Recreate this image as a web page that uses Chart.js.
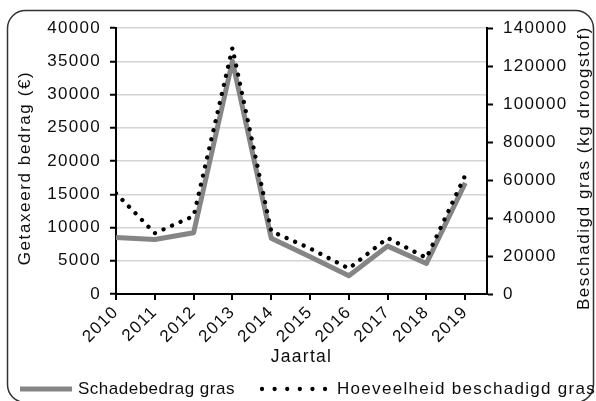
<!DOCTYPE html>
<html><head><meta charset="utf-8">
<script src="https://cdn.jsdelivr.net/npm/chart.js@4/dist/chart.umd.min.js"></script>
<style>html,body{margin:0;padding:0;background:#fff;overflow:hidden}</style>
</head><body>
<canvas id="c" width="596" height="401"></canvas>
<script>
const years = [2010, 2011, 2012, 2013, 2014, 2015, 2016, 2017, 2018, 2019];
const schadebedrag = [8500, 8200, 9200, 35000, 8400, 5600, 2750, 7200, 4600, 16700];
const hoeveelheid = [53000, 32000, 41000, 129500, 33000, 24000, 13400, 29500, 19000, 62500];
const seriesLabels = ['Schadebedrag gras', 'Hoeveelheid beschadigd gras'];
const leftTitle = 'Getaxeerd bedrag (€)';
const rightTitle = 'Beschadigd gras (kg droogstof)';
const xTitle = 'Jaartal';

const FONT = '"Liberation Sans", Arial, sans-serif';
const LS = '1.3px';
const GREY = '#858585';
const INK = '#0d0d0d';

const spacing = {
  id: 'spacing',
  beforeUpdate(c) { c.ctx.letterSpacing = LS; },
  beforeLayout(c) { c.ctx.letterSpacing = LS; },
  beforeDraw(c) {
    const ctx = c.ctx;
    ctx.letterSpacing = LS;
    ctx.save();
    ctx.strokeStyle = '#333';
    ctx.lineWidth = 1.5;
    ctx.beginPath();
    ctx.roundRect(7.5, 10.5, 586, 392, 18);
    ctx.stroke();
    ctx.restore();
  },
  afterDraw(c) {
    const ctx = c.ctx;
    ctx.save();
    ctx.letterSpacing = '1.6px';
    ctx.font = '17px ' + FONT;
    ctx.fillStyle = INK;
    ctx.textAlign = 'center';
    ctx.textBaseline = 'middle';
    ctx.save(); ctx.translate(25, 168); ctx.rotate(-Math.PI / 2); ctx.fillText(leftTitle, 0, 0); ctx.restore();
    ctx.save(); ctx.translate(584, 168); ctx.rotate(-Math.PI / 2); ctx.fillText(rightTitle, 0, 0); ctx.restore();
    // legend
    const ly = 389;
    const ds = c.data.datasets;
    ctx.textAlign = 'left';
    ctx.font = '17px ' + FONT;
    ctx.save();
    ctx.strokeStyle = ds[0].borderColor; ctx.lineWidth = ds[0].borderWidth;
    ctx.beginPath(); ctx.moveTo(20, ly); ctx.lineTo(72, ly); ctx.stroke();
    ctx.restore();
    ctx.letterSpacing = '0.5px';
    ctx.fillText(ds[0].label, 78, ly);
    ctx.save();
    ctx.strokeStyle = ds[1].borderColor; ctx.lineWidth = ds[1].borderWidth;
    ctx.lineCap = 'round'; ctx.setLineDash([0.01, 12.6]);
    ctx.beginPath(); ctx.moveTo(262, ly); ctx.lineTo(330, ly); ctx.stroke();
    ctx.restore();
    ctx.letterSpacing = '1.3px';
    ctx.fillText(ds[1].label, 337, ly);
    ctx.restore();
  }
};

new Chart(document.getElementById('c'), {
  type: 'line',
  data: {
    datasets: [
      {
        label: seriesLabels[0],
        data: years.map((y, i) => ({x: y, y: schadebedrag[i]})),
        yAxisID: 'y',
        borderColor: GREY,
        borderWidth: 5,
        borderJoinStyle: 'round',
        pointRadius: 0,
        tension: 0,
        order: 1
      },
      {
        label: seriesLabels[1],
        data: years.map((y, i) => ({x: y, y: hoeveelheid[i]})),
        yAxisID: 'y1',
        borderColor: '#000',
        borderWidth: 4.3,
        borderDash: [0.01, 9.3],
        borderCapStyle: 'round',
        pointRadius: 0,
        tension: 0,
        order: 0
      }
    ]
  },
  options: {
    responsive: false,
    devicePixelRatio: 1,
    animation: false,
    layout: {padding: {top: 28, bottom: 33, left: 0, right: 0}},
    plugins: {legend: {display: false}, tooltip: {enabled: false}},
    scales: {
      x: {
        type: 'linear',
        min: 2010,
        max: 2019.56,
        afterBuildTicks: s => { s.ticks = years.map(v => ({value: v})); },
        afterFit: s => { s.height = 74; },
        grid: {drawOnChartArea: false, drawTicks: true, tickLength: 6, tickColor: '#000', lineWidth: 2},
        border: {display: true, color: '#000', width: 2},
        ticks: {
          autoSkip: false, minRotation: 45, maxRotation: 45, padding: 2,
          color: INK, font: {family: FONT, size: 17},
          callback: v => String(v)
        },
        title: {display: true, text: xTitle, color: INK, font: {family: FONT, size: 17.5}, padding: {top: 0, bottom: 0}}
      },
      y: {
        position: 'left',
        min: 0, max: 40000,
        afterFit: s => { s.width = 116; },
        ticks: {stepSize: 5000, padding: 9, color: INK, font: {family: FONT, size: 17}, callback: v => String(v)},
        grid: {color: '#d4d4d4', lineWidth: 1.5, tickLength: 6, tickColor: '#000', tickWidth: 2},
        border: {display: true, color: '#000', width: 2}
      },
      y1: {
        position: 'right',
        min: 0, max: 140000,
        afterFit: s => { s.width = 109; },
        ticks: {stepSize: 20000, padding: 10, color: INK, font: {family: FONT, size: 17}, callback: v => String(v)},
        grid: {drawOnChartArea: false, tickLength: 6, tickColor: '#000', tickWidth: 2},
        border: {display: true, color: '#000', width: 2}
      }
    }
  },
  plugins: [spacing]
});
</script>
</body></html>
